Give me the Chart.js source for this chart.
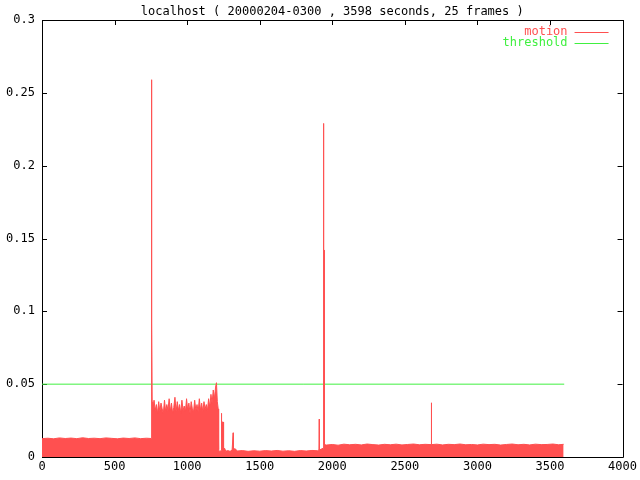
<!DOCTYPE html>
<html>
<head>
<meta charset="utf-8">
<script src="https://cdn.jsdelivr.net/npm/chart.js@4/dist/chart.umd.min.js"></script>
<style>
  html, body { margin: 0; padding: 0; background: #fff; }
  #wrap { width: 640px; height: 480px; }
</style>
</head>
<body>
<div id="wrap"><canvas id="c" width="640" height="480"></canvas></div>
<script>
// values (seconds -> motion level)
var motionTime = [
  0, 40, 80, 120, 160, 200, 240, 280, 320, 360, 400, 440, 480, 520, 560, 600, 640, 680, 720, 752,
  754, 755, 757, 759,
  764, 772, 780, 788, 796, 804, 812, 820, 828, 836, 844, 852, 860, 868, 876, 884, 892, 900, 908, 916,
  924, 932, 940, 948, 956, 964, 972, 980, 988, 996, 1004, 1012, 1020, 1028, 1036, 1044, 1052, 1060,
  1068, 1076, 1084, 1092, 1100, 1108, 1116, 1124, 1132, 1140, 1148, 1156, 1164, 1172, 1180, 1188,
  1196, 1202, 1208, 1214, 1217,
  1222, 1230, 1234, 1236, 1238, 1241, 1249, 1251, 1258, 1266, 1280, 1296, 1310, 1315, 1317, 1319,
  1330, 1345, 1380, 1420, 1460, 1500, 1540, 1580, 1620, 1660, 1700, 1740, 1780, 1820, 1860, 1900,
  1908, 1910, 1912, 1925, 1938, 1940, 1941, 1944, 1945,
  1960, 2000, 2040, 2080, 2120, 2160, 2200, 2240, 2280, 2320, 2360, 2400, 2440, 2480, 2520, 2560,
  2600, 2640, 2680, 2682, 2683, 2684, 2720, 2760, 2800, 2840, 2880, 2920, 2960, 3000, 3040, 3080,
  3120, 3160, 3200, 3240, 3280, 3320, 3360, 3400, 3440, 3480, 3520, 3560, 3594
];
var motionLevel = [
  0.0126, 0.0129, 0.0125, 0.0131, 0.0127, 0.0130, 0.0126, 0.0132, 0.0127, 0.0129, 0.0126, 0.0131,
  0.0128, 0.0125, 0.0130, 0.0127, 0.0131, 0.0126, 0.0129, 0.0127,
  0.259, 0.092, 0.092, 0.038,
  0.031, 0.039, 0.032, 0.036, 0.030, 0.038, 0.031, 0.037, 0.033, 0.030, 0.039, 0.031, 0.036, 0.032,
  0.040, 0.031, 0.037, 0.030, 0.034, 0.041, 0.031, 0.038, 0.032, 0.036, 0.030, 0.039, 0.032, 0.035,
  0.031, 0.040, 0.032, 0.037, 0.030, 0.038, 0.033, 0.031, 0.039, 0.032, 0.036, 0.031, 0.040, 0.032,
  0.037, 0.031, 0.038, 0.033, 0.036, 0.032, 0.040, 0.034, 0.043, 0.037, 0.046, 0.040, 0.048, 0.051,
  0.038, 0.033, 0.005,
  0.0038, 0.0042, 0.0045, 0.030, 0.012, 0.024, 0.024, 0.0045, 0.0060, 0.0040, 0.0044, 0.0039,
  0.0048, 0.0048, 0.0166, 0.0050, 0.0058, 0.0041, 0.0044, 0.0039, 0.0043, 0.0040, 0.0044, 0.0041,
  0.0045, 0.0040, 0.0043, 0.0039, 0.0044, 0.0041, 0.0045, 0.0043,
  0.0048, 0.026, 0.0048, 0.0055, 0.0060, 0.229, 0.142, 0.142, 0.0085,
  0.0082, 0.0086, 0.0081, 0.0088, 0.0084, 0.0087, 0.0083, 0.0089, 0.0085, 0.0082, 0.0087, 0.0084,
  0.0088, 0.0083, 0.0086, 0.0089, 0.0084, 0.0087, 0.0085, 0.0085, 0.0372, 0.0085, 0.0088, 0.0083,
  0.0087, 0.0085, 0.0089, 0.0084, 0.0086, 0.0083, 0.0088, 0.0085, 0.0087, 0.0082, 0.0086, 0.0089,
  0.0084, 0.0087, 0.0083, 0.0088, 0.0085, 0.0086, 0.0089, 0.0084, 0.0087
];
var thresholdTime = [0, 3598];
var thresholdLevel = [0.05, 0.05];

var xTicks = [0, 500, 1000, 1500, 2000, 2500, 3000, 3500, 4000];
var yTicks = [0, 0.05, 0.1, 0.15, 0.2, 0.25, 0.3];
var yTickLabels = ["0", "0.05", "0.1", "0.15", "0.2", "0.25", "0.3"];

var FONT = "'DejaVu Sans Mono', 'Liberation Mono', monospace";
var RED = "#ff5050";
var GREEN = "#40f040";

function toPoints(xs, ys) {
  return xs.map(function (x, i) {
    return { x: x, y: ys[i] };
  });
}

// gnuplot style frame: border + inward ticks on all four sides
var framePlugin = {
  id: "frame",
  beforeDatasetsDraw: function (chart) {
    var ctx = chart.ctx;
    var a = chart.chartArea;
    var xs = chart.scales.x;
    var ys = chart.scales.y;
    var L = 5;
    ctx.save();
    ctx.strokeStyle = "#000";
    ctx.lineWidth = 1;
    ctx.beginPath();
    ctx.rect(Math.round(a.left) + 0.5, Math.round(a.top) + 0.5,
      Math.round(a.right - a.left), Math.round(a.bottom - a.top));
    xTicks.forEach(function (v) {
      var px = Math.round(xs.getPixelForValue(v)) + 0.5;
      ctx.moveTo(px, a.top);
      ctx.lineTo(px, a.top + L);
      ctx.moveTo(px, a.bottom);
      ctx.lineTo(px, a.bottom - L);
    });
    yTicks.forEach(function (v) {
      var py = Math.round(ys.getPixelForValue(v)) + 0.5;
      ctx.moveTo(a.left, py);
      ctx.lineTo(a.left + L, py);
      ctx.moveTo(a.right, py);
      ctx.lineTo(a.right - L, py);
    });
    ctx.stroke();
    ctx.restore();
  },
  afterDraw: function (chart) {
    // key in the top right corner: label then line sample
    var ctx = chart.ctx;
    var a = chart.chartArea;
    ctx.save();
    ctx.font = "12px " + FONT;
    ctx.textAlign = "right";
    ctx.textBaseline = "middle";
    chart.data.datasets.forEach(function (ds, i) {
      var y = a.top + 12 + i * 11;
      ctx.fillStyle = ds.borderColor;
      ctx.fillText(ds.label, a.right - 55, y);
      ctx.strokeStyle = ds.borderColor;
      ctx.lineWidth = 1;
      ctx.beginPath();
      ctx.moveTo(a.right - 48, Math.round(y) + 0.5);
      ctx.lineTo(a.right - 14, Math.round(y) + 0.5);
      ctx.stroke();
    });
    ctx.restore();
  }
};

new Chart(document.getElementById("c"), {
  type: "line",
  data: {
    datasets: [
      {
        label: "motion",
        data: toPoints(motionTime, motionLevel),
        borderColor: RED,
        backgroundColor: RED,
        borderWidth: 1,
        fill: "origin",
        pointRadius: 0,
        tension: 0
      },
      {
        label: "threshold",
        data: toPoints(thresholdTime, thresholdLevel),
        borderColor: GREEN,
        backgroundColor: GREEN,
        borderWidth: 1,
        fill: false,
        pointRadius: 0
      }
    ]
  },
  options: {
    responsive: false,
    animation: false,
    layout: { padding: { top: 0, right: 13, left: 0, bottom: 0 } },
    plugins: {
      legend: { display: false },
      tooltip: { enabled: false },
      title: {
        display: true,
        fullSize: false,
        text: "localhost ( 20000204-0300 , 3598 seconds, 25 frames )",
        color: "#000",
        font: { family: FONT, size: 12, weight: "normal" },
        padding: { top: 4.5, bottom: 1.1 }
      }
    },
    scales: {
      x: {
        type: "linear",
        min: 0,
        max: 4000,
        afterBuildTicks: function (s) {
          s.ticks = xTicks.map(function (v) { return { value: v }; });
        },
        afterFit: function (s) { s.height = 23; },
        grid: { display: false, drawTicks: false },
        border: { display: false },
        ticks: {
          color: "#000",
          padding: 3,
          maxRotation: 0,
          font: { family: FONT, size: 12 },
          callback: function (v) { return String(v); }
        }
      },
      y: {
        type: "linear",
        min: 0,
        max: 0.3,
        afterBuildTicks: function (s) {
          s.ticks = yTicks.map(function (v) { return { value: v }; });
        },
        afterFit: function (s) { s.width = 42; },
        grid: { display: false, drawTicks: false },
        border: { display: false },
        ticks: {
          color: "#000",
          padding: 7,
          font: { family: FONT, size: 12 },
          callback: function (v) {
            var i = yTicks.indexOf(v);
            return i >= 0 ? yTickLabels[i] : "";
          }
        }
      }
    }
  },
  plugins: [framePlugin]
});
</script>
</body>
</html>
